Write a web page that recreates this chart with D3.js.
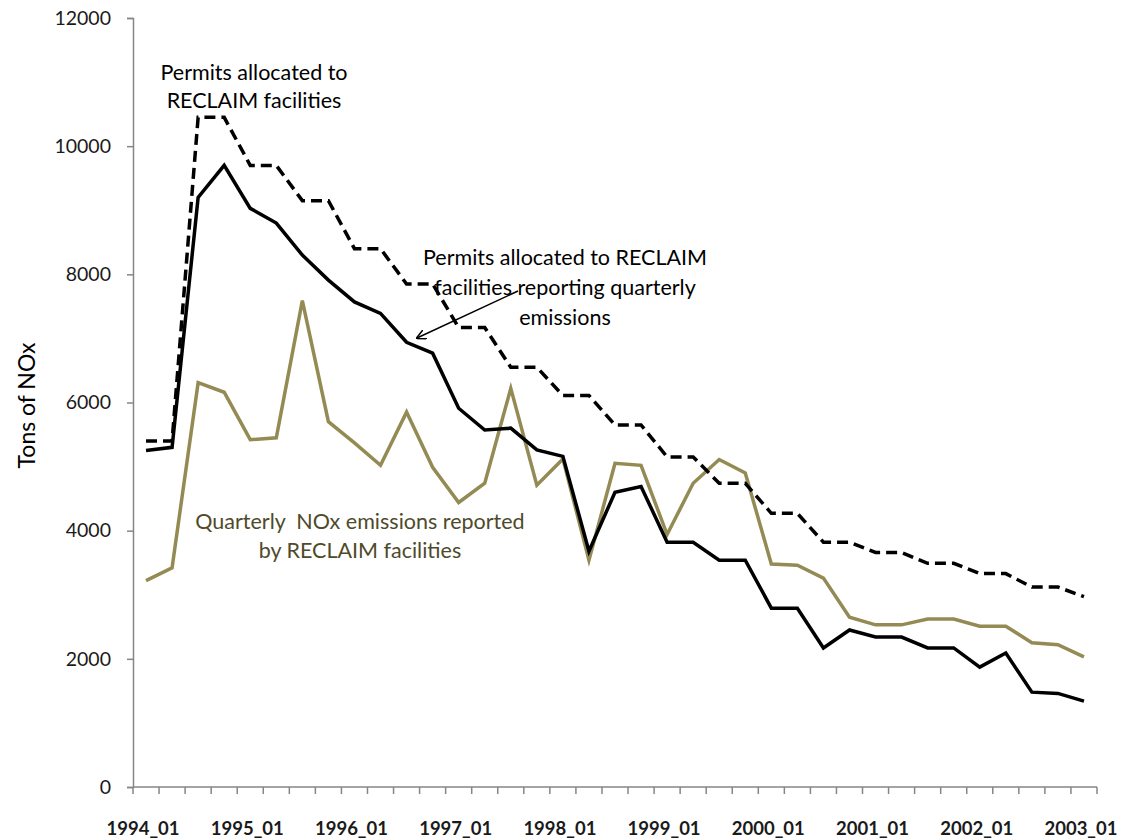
<!DOCTYPE html>
<html>
<head>
<meta charset="utf-8">
<script src="https://cdn.jsdelivr.net/npm/d3@7"></script>
<style>
  body { margin: 0; background: #fff; }
  text { font-family: Lato, "Open Sans", sans-serif; white-space: pre; }
</style>
</head>
<body>
<div id="chart-area"></div>
<script>
// quarterly categories 1994_01 .. 2003_01
const quarters = [
    '1994_01', '1994_02', '1994_03', '1994_04',
    '1995_01', '1995_02', '1995_03', '1995_04',
    '1996_01', '1996_02', '1996_03', '1996_04',
    '1997_01', '1997_02', '1997_03', '1997_04',
    '1998_01', '1998_02', '1998_03', '1998_04',
    '1999_01', '1999_02', '1999_03', '1999_04',
    '2000_01', '2000_02', '2000_03', '2000_04',
    '2001_01', '2001_02', '2001_03', '2001_04',
    '2002_01', '2002_02', '2002_03', '2002_04',
    '2003_01'
]
const xTickLabels = ['1994_01', '1995_01', '1996_01', '1997_01', '1998_01',
    '1999_01', '2000_01', '2001_01', '2002_01', '2003_01']
const yTicks = [0, 2000, 4000, 6000, 8000, 10000, 12000]

// permits allocated to RECLAIM facilities (dashed)
const permitsAll = [5400, 5400, 10450, 10450, 9700, 9700, 9150, 9150, 8400, 8400,
    7850, 7850, 7170, 7170, 6550, 6550, 6110, 6110, 5650, 5650,
    5150, 5150, 4740, 4740, 4270, 4270, 3820, 3820, 3660, 3660,
    3490, 3490, 3330, 3330, 3120, 3120, 2970]
// permits allocated to facilities reporting quarterly emissions (solid)
const permitsReporting = [5250, 5300, 9200, 9700, 9030, 8800, 8300, 7910, 7570, 7390,
    6940, 6770, 5910, 5570, 5600, 5260, 5160, 3680, 4600, 4690,
    3820, 3820, 3540, 3540, 2790, 2790, 2170, 2450, 2340, 2340,
    2170, 2170, 1870, 2090, 1480, 1460, 1340]
// quarterly NOx emissions reported (olive)
const emissions = [3220, 3420, 6310, 6160, 5420, 5450, 7590, 5700, 5370, 5020,
    5850, 4990, 4440, 4740, 6220, 4710, 5120, 3540, 5050, 5020,
    3940, 4740, 5110, 4900, 3480, 3460, 3260, 2650, 2530, 2530,
    2620, 2620, 2510, 2510, 2250, 2220, 2030]

const margin = { left: 133, right: 32, top: 18, bottom: 52 }
const W = 1129, H = 839
const width = W - margin.left - margin.right
const height = H - margin.top - margin.bottom

const svg = d3.select('#chart-area').append('svg')
    .attr('width', W)
    .attr('height', H)

const g = svg.append('g')
    .attr('transform', `translate(${margin.left}, ${margin.top})`)

const xScale = d3.scaleBand()
    .domain(quarters)
    .range([0, width])
    .padding(0)

const yScale = d3.scaleLinear()
    .domain([0, 12000])
    .range([height, 0])

const axisColor = '#868686'

// y axis
const yAxisCall = d3.axisLeft(yScale)
    .tickValues(yTicks)
    .tickSize(6)
    .tickPadding(16)
    .tickFormat(d => d)
const yAxis = g.append('g').attr('class', 'y axis').call(yAxisCall)
yAxis.select('.domain').attr('stroke', axisColor).attr('stroke-width', 1.5)
yAxis.selectAll('.tick line').attr('stroke', axisColor).attr('stroke-width', 1.5)
yAxis.selectAll('text')
    .attr('font-size', '19.5px')
    .attr('fill', '#1a1a1a')
    .attr('font-family', 'Lato, sans-serif')

// x axis: ticks between categories, labels every 4th quarter
const xAxis = g.append('g')
    .attr('class', 'x axis')
    .attr('transform', `translate(0, ${height})`)
xAxis.append('line')
    .attr('x1', 0).attr('x2', width)
    .attr('stroke', axisColor).attr('stroke-width', 1.5)
const boundaries = quarters.map(q => xScale(q)).concat([xScale(quarters[quarters.length - 1]) + xScale.bandwidth()])
xAxis.selectAll('.xtick')
    .data(boundaries)
    .enter().append('line')
    .attr('class', 'xtick')
    .attr('x1', d => d).attr('x2', d => d)
    .attr('y1', 0).attr('y2', 7)
    .attr('stroke', axisColor).attr('stroke-width', 1.5)
xAxis.selectAll('.xlabel')
    .data(xTickLabels)
    .enter().append('text')
    .attr('class', 'xlabel')
    .attr('x', d => xScale(d) + xScale.bandwidth() / 2 - 3)
    .attr('y', 48)
    .attr('text-anchor', 'middle')
    .attr('font-size', '18.5px')
    .attr('font-weight', 'bold')
    .attr('fill', '#1a1a1a')
    .text(d => d)

// lines
const line = d3.line()
    .x((d, i) => xScale(quarters[i]) + xScale.bandwidth() / 2)
    .y(d => yScale(d))

g.append('path')
    .datum(emissions)
    .attr('fill', 'none')
    .attr('stroke', '#948a54')
    .attr('stroke-width', 3.5)
    .attr('d', line)

g.append('path')
    .datum(permitsReporting)
    .attr('fill', 'none')
    .attr('stroke', '#000')
    .attr('stroke-width', 3.5)
    .attr('d', line)

g.append('path')
    .datum(permitsAll)
    .attr('fill', 'none')
    .attr('stroke', '#000')
    .attr('stroke-width', 3.5)
    .attr('stroke-dasharray', '11,6')
    .attr('d', line)

// y axis label
g.append('text')
    .attr('class', 'y axis-label')
    .attr('x', -height / 2 - 3)
    .attr('y', -98)
    .attr('font-size', '23px')
    .attr('text-anchor', 'middle')
    .attr('transform', 'rotate(-90)')
    .text('Tons of NOx')

// annotations
const note1 = svg.append('text')
    .attr('text-anchor', 'middle')
    .attr('font-size', '21.5px')
    .attr('fill', '#000')
note1.append('tspan').attr('x', 254).attr('y', 80).text('Permits allocated to')
note1.append('tspan').attr('x', 254).attr('y', 108).text('RECLAIM facilities')

const note2 = svg.append('text')
    .attr('text-anchor', 'middle')
    .attr('font-size', '21.5px')
    .attr('fill', '#000')
note2.append('tspan').attr('x', 565).attr('y', 265).text('Permits allocated to RECLAIM')
note2.append('tspan').attr('x', 565).attr('y', 295).text('facilities reporting quarterly')
note2.append('tspan').attr('x', 565).attr('y', 325).text('emissions')

const note3 = svg.append('text')
    .attr('text-anchor', 'middle')
    .attr('font-size', '21.5px')
    .attr('fill', '#4f4a2a')
note3.append('tspan').attr('x', 360).attr('y', 529).text('Quarterly  NOx emissions reported')
note3.append('tspan').attr('x', 360).attr('y', 558).text('by RECLAIM facilities')

// arrow
svg.append('defs').append('marker')
    .attr('id', 'arrow')
    .attr('viewBox', '0 0 10 10')
    .attr('refX', 9).attr('refY', 5)
    .attr('markerWidth', 10).attr('markerHeight', 10)
    .attr('markerUnits', 'userSpaceOnUse')
    .attr('orient', 'auto')
    .append('path')
    .attr('d', 'M0,0 L10,5 L0,10')
    .attr('fill', 'none')
    .attr('stroke', '#000')
    .attr('stroke-width', 1.5)

svg.append('line')
    .attr('x1', 518).attr('y1', 291)
    .attr('x2', 417).attr('y2', 338)
    .attr('stroke', '#000')
    .attr('stroke-width', 1.5)
    .attr('marker-end', 'url(#arrow)')
</script>
</body>
</html>
